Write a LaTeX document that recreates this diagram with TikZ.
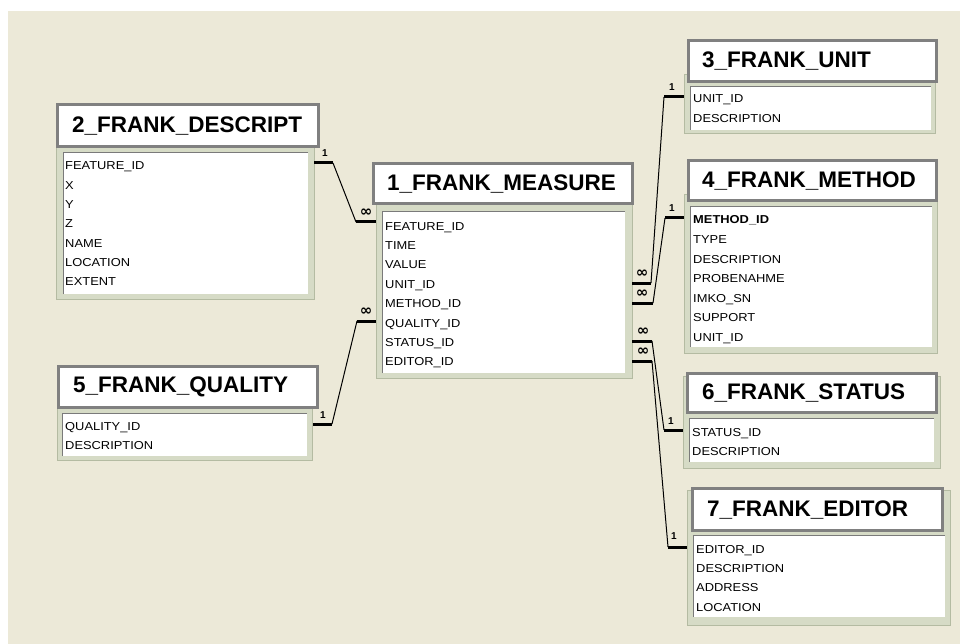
\documentclass[tikz,border=0pt]{standalone}
\usepackage{fontspec}
\setmainfont{Liberation Sans}
\newfontfamily\fieldfont[FakeStretch=1.12]{Liberation Sans}
\newfontfamily\symfont{DejaVu Sans}
\definecolor{bgbeige}{HTML}{ECE9D8}
\definecolor{panelfill}{HTML}{D6DBC6}
\definecolor{paneledge}{HTML}{B4BBA2}
\definecolor{titlegray}{HTML}{808080}
\definecolor{innerdark}{HTML}{7A7A7A}
\tikzset{
  panel/.style={fill=panelfill, draw=paneledge, line width=1pt},
  innerbox/.style={fill=white},
  innerline/.style={draw=innerdark, line width=0.9pt},
  titleframe/.style={fill=white, draw=titlegray, line width=3pt},
  titletext/.style={anchor=west, inner sep=0pt, font=\fontsize{22.5}{26}\selectfont\bfseries},
  field/.style={anchor=base west, inner sep=0pt, font=\fieldfont\fontsize{11.5}{13}\selectfont},
  stub/.style={line width=3pt},
  link/.style={line width=1pt},
  onelbl/.style={inner sep=0pt, font=\fontsize{10}{11}\selectfont\bfseries},
  manylbl/.style={inner sep=0pt, font=\symfont\fontsize{15}{16}\selectfont\bfseries}
}
\begin{document}
\begin{tikzpicture}[x=1pt,y=-1pt]
\useasboundingbox (0,0) rectangle (960,644);
\fill[white] (0,0) rectangle (960,644);
\fill[bgbeige] (8,11) rectangle (960,644);

% ---------- 2_FRANK_DESCRIPT ----------
\draw[panel] (56,140) rectangle (314,299);
\fill[innerbox] (63,152) rectangle (308,294);
\draw[innerline] (63,294) |- (308,152);
\draw[titleframe] (57.5,104.5) rectangle (318.5,146.5);
\node[titletext] (t2) at (72,126) {2\_FRANK\_DESCRIPT};
\foreach \t [count=\i] in {FEATURE\_ID,X,Y,Z,NAME,LOCATION,EXTENT}
  \node[field] (t2f\i) at (65,{170+(\i-1)*19.3}) {\t};

% ---------- 1_FRANK_MEASURE ----------
\draw[panel] (376,195) rectangle (632,378);
\fill[innerbox] (382,211) rectangle (625,373);
\draw[innerline] (382,373) |- (625,211);
\draw[titleframe] (373.5,163.5) rectangle (632.5,203.5);
\node[titletext] (t1) at (387,184) {1\_FRANK\_MEASURE};
\foreach \t [count=\i] in {FEATURE\_ID,TIME,VALUE,UNIT\_ID,METHOD\_ID,QUALITY\_ID,STATUS\_ID,EDITOR\_ID}
  \node[field] (t1f\i) at (385,{230+(\i-1)*19.4}) {\t};

% ---------- 3_FRANK_UNIT ----------
\draw[panel] (684,75) rectangle (935,134);
\fill[innerbox] (690,86) rectangle (931,130);
\draw[innerline] (690,130) |- (931,86);
\draw[titleframe] (688.5,40.5) rectangle (936.5,81.5);
\node[titletext] (t3) at (702,61) {3\_FRANK\_UNIT};
\foreach \t [count=\i] in {UNIT\_ID,DESCRIPTION}
  \node[field] (t3f\i) at (693,{103+(\i-1)*19.4}) {\t};

% ---------- 4_FRANK_METHOD ----------
\draw[panel] (684,195) rectangle (937,353);
\fill[innerbox] (690,206) rectangle (932,347);
\draw[innerline] (690,347) |- (932,206);
\draw[titleframe] (688.5,160.5) rectangle (936.5,200.5);
\node[titletext] (t4) at (702,181) {4\_FRANK\_METHOD};
\node[field, font=\fieldfont\fontsize{11.5}{13}\selectfont\bfseries] (t4f1) at (693,224) {METHOD\_ID};
\foreach \t [count=\i from 2] in {TYPE,DESCRIPTION,PROBENAHME,IMKO\_SN,SUPPORT,UNIT\_ID}
  \node[field] (t4f\i) at (693,{224+(\i-1)*19.5}) {\t};

% ---------- 5_FRANK_QUALITY ----------
\draw[panel] (57,400) rectangle (312,460);
\fill[innerbox] (62,413) rectangle (307,456);
\draw[innerline] (62,456) |- (307,413);
\draw[titleframe] (58.5,366.5) rectangle (317.5,407.5);
\node[titletext] (t5) at (73,387) {5\_FRANK\_QUALITY};
\foreach \t [count=\i] in {QUALITY\_ID,DESCRIPTION}
  \node[field] (t5f\i) at (65,{430+(\i-1)*19.6}) {\t};

% ---------- 6_FRANK_STATUS ----------
\draw[panel] (683,376) rectangle (940,468);
\fill[innerbox] (689,418) rectangle (934,462);
\draw[innerline] (689,462) |- (934,418);
\draw[titleframe] (687.5,373.5) rectangle (936.5,412.5);
\node[titletext] (t6) at (702,393) {6\_FRANK\_STATUS};
\foreach \t [count=\i] in {STATUS\_ID,DESCRIPTION}
  \node[field] (t6f\i) at (692,{436+(\i-1)*19.4}) {\t};

% ---------- 7_FRANK_EDITOR ----------
\draw[panel] (687,490) rectangle (950,625);
\fill[innerbox] (693,535) rectangle (945,617);
\draw[innerline] (693,617) |- (945,535);
\draw[titleframe] (692.5,488.5) rectangle (942.5,530.5);
\node[titletext] (t7) at (707,510) {7\_FRANK\_EDITOR};
\foreach \t [count=\i] in {EDITOR\_ID,DESCRIPTION,ADDRESS,LOCATION}
  \node[field] (t7f\i) at (696,{553+(\i-1)*19.4}) {\t};

% ---------- connector points ----------
\coordinate (a1) at (314,163); \coordinate (a2) at (333,163);
\coordinate (a3) at (356,222); \coordinate (a4) at (376,222);
\coordinate (b1) at (313,424); \coordinate (b2) at (332,424);
\coordinate (b3) at (357,321); \coordinate (b4) at (376,321);
\coordinate (c1) at (632,283); \coordinate (c2) at (651,283);
\coordinate (c3) at (664,97);  \coordinate (c4) at (684,97);
\coordinate (d1) at (632,303); \coordinate (d2) at (653,303);
\coordinate (d3) at (665,218); \coordinate (d4) at (684,218);
\coordinate (e1) at (632,341); \coordinate (e2) at (652,341);
\coordinate (e3) at (664,430); \coordinate (e4) at (683,430);
\coordinate (f1) at (632,361); \coordinate (f2) at (652,361);
\coordinate (f3) at (668,547); \coordinate (f4) at (687,547);

% DESCRIPT -- MEASURE
\draw[stub] (a1) -- (a2); \draw[link] (a2) -- (a3); \draw[stub] (a3) -- (a4);
\node[onelbl] (a1l) at (325,153) {1};
\node[manylbl] (a4l) at (366,213) {∞};
% QUALITY -- MEASURE
\draw[stub] (b1) -- (b2); \draw[link] (b2) -- (b3); \draw[stub] (b3) -- (b4);
\node[onelbl] (b1l) at (323,415) {1};
\node[manylbl] (b4l) at (366,312) {∞};
% MEASURE -- UNIT
\draw[stub] (c1) -- (c2); \draw[link] (c2) -- (c3); \draw[stub] (c3) -- (c4);
\node[onelbl] (c4l) at (672,87) {1};
\node[manylbl] (c1l) at (642,274) {∞};
% MEASURE -- METHOD
\draw[stub] (d1) -- (d2); \draw[link] (d2) -- (d3); \draw[stub] (d3) -- (d4);
\node[onelbl] (d4l) at (672,208) {1};
\node[manylbl] (d1l) at (642,294) {∞};
% MEASURE -- STATUS
\draw[stub] (e1) -- (e2); \draw[link] (e2) -- (e3); \draw[stub] (e3) -- (e4);
\node[onelbl] (e4l) at (671,421) {1};
\node[manylbl] (e1l) at (643,332) {∞};
% MEASURE -- EDITOR
\draw[stub] (f1) -- (f2); \draw[link] (f2) -- (f3); \draw[stub] (f3) -- (f4);
\node[onelbl] (f4l) at (674,536) {1};
\node[manylbl] (f1l) at (643,352) {∞};
\end{tikzpicture}
\end{document}
